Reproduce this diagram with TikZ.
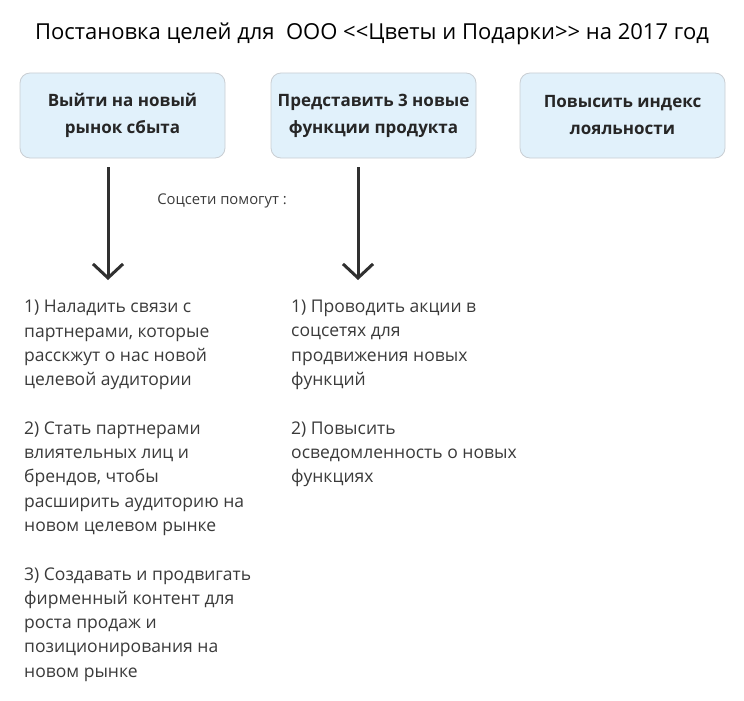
\documentclass[tikz,border=0pt]{standalone}
\usepackage{fontspec}
\setmainfont{Open Sans}
\newfontfamily\titlefont{Open Sans}
\usetikzlibrary{arrows.meta}
\definecolor{goalfill}{HTML}{E1F1FB}
\definecolor{goalline}{HTML}{C9CED3}
\definecolor{inktext}{HTML}{3A3A3A}
\definecolor{inkarrow}{HTML}{303030}
\tikzset{
	goal/.style={draw=goalline, fill=goalfill, rounded corners=10pt, line width=0.8pt,
		minimum width=205pt, minimum height=85pt, align=center, text=black!85,
		font=\bfseries\fontsize{17}{27}\selectfont},
	plan/.style={anchor=north west, align=left, inner sep=0pt, text=inktext,
		font=\fontsize{17.5}{24.3}\selectfont},
}

\begin{document}
\begin{tikzpicture}[x=1pt, y=-1pt, >={Straight Barb[length=14pt,width=30pt]}]
			\useasboundingbox (0,0) rectangle (744,701);
			\node (title) at (372,34) {\titlefont\fontsize{22}{26}\selectfont Постановка целей для \ ООО <<Цветы и Подарки>> на 2017 год};
			
			\node[goal] (goalMarket) at (122.5,115.5) {Выйти на новый\\рынок сбыта};
			\node[goal] (goalFeatures) at (373.5,115.5) {Представить 3 новые\\функции продукта};
			\node[goal] (goalLoyalty) at (622.5,115.5) {Повысить индекс\\лояльности};
			
			\node[text=inktext, font=\fontsize{14.8}{17}\selectfont] (helpLabel) at (222,201) {Соцсети помогут :};
			
			\coordinate (marketTip) at (108,280);
			\coordinate (featuresTip) at (358,280);
			\draw[->, line width=3pt, inkarrow] ([xshift=-14.5pt,yshift=-9pt]goalMarket.south) -- (marketTip);
			\draw[->, line width=3pt, inkarrow] ([xshift=-15.5pt,yshift=-9pt]goalFeatures.south) -- (featuresTip);
			
			\node[plan] (planMarket) at (24,300) {1) Наладить связи с\\партнерами, которые\\расскжут о нас новой\\целевой аудитории\\[24.3pt]
				2) Стать партнерами\\влиятельных лиц и\\брендов, чтобы\\расширить аудиторию на\\новом целевом рынке\\[24.3pt]
				3) Создавать и продвигать\\фирменный контент для\\роста продаж и\\позиционирования на\\новом рынке};
			\node[plan] (planFeatures) at (291,300) {1) Проводить акции в\\соцсетях для\\продвижения новых\\функций\\[24.3pt]
				2) Повысить\\осведомленность о новых\\функциях};
		\end{tikzpicture}
\end{document}
